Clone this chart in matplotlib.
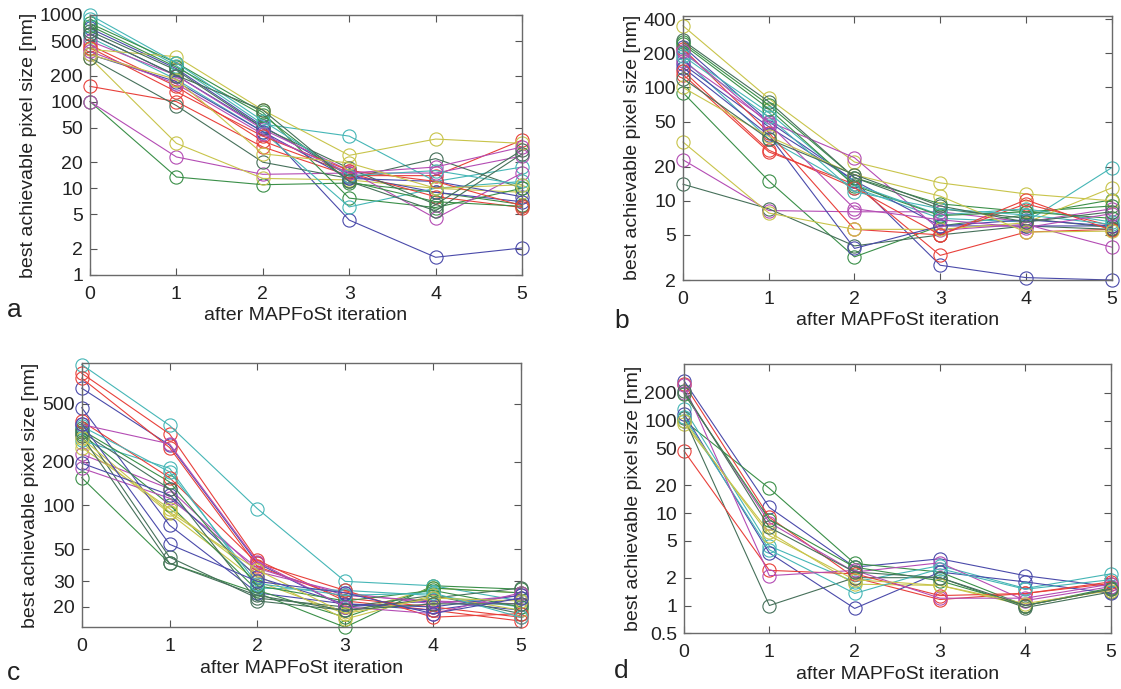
import matplotlib
matplotlib.use('Agg')
import matplotlib.pyplot as plt
from matplotlib.ticker import FixedLocator, FixedFormatter, NullLocator

plt.rcParams['font.family'] = ['Liberation Sans', 'DejaVu Sans']

iterations = [0, 1, 2, 3, 4, 5]

# best achievable pixel size [nm] per run, after each MAPFoSt iteration
series_a = [
    [600, 200, 50, 4.3, 1.6, 2.05],
    [100, 13.5, 11, 11.5, 9, 6.5],
    [150, 100, 30, 14, 14, 36],
    [900, 260, 55, 40, 12, 17.6],
    [100, 23, 14.5, 15, 15, 23.6],
    [320, 33, 13, 12.5, 10, 9],
    [320, 90, 20, 13, 22, 10],
    [700, 240, 52, 14, 9, 7],
    [800, 280, 75, 7.7, 6, 10],
    [450, 150, 35, 15, 8, 6],
    [550, 180, 45, 6.1, 10, 12],
    [500, 200, 48, 16, 4.5, 15],
    [400, 330, 80, 24, 37, 33],
    [650, 230, 50, 17, 6.5, 27.6],
    [350, 170, 45, 13, 12, 8],
    [750, 250, 70, 12, 7, 6.2],
    [420, 130, 40, 16, 12, 6.3],
    [1000, 280, 60, 14, 16, 11],
    [380, 160, 42, 15, 17.6, 30],
    [350, 180, 25, 19.6, 10, 11],
    [600, 200, 80, 12, 5.5, 25],
]

series_b = [
    [230, 50, 15, 2.7, 2.1, 2.0],
    [90, 15, 3.2, 6, 7.5, 10.2],
    [130, 27, 14, 3.3, 5.3, 5.6],
    [180, 35, 13, 7, 6.5, 19.6],
    [23, 8.2, 8, 8, 6.5, 8.5],
    [350, 80, 22, 14.4, 11.5, 10],
    [14, 8.5, 4, 5, 6, 5.6],
    [160, 45, 15, 6, 6, 6],
    [250, 70, 16, 9.4, 8, 9],
    [220, 40, 5.6, 5, 9.4, 6],
    [200, 60, 14, 7.5, 8.5, 6.5],
    [170, 50, 24, 5.5, 6.2, 3.9],
    [33, 7.8, 5.6, 5.6, 6.4, 13],
    [260, 75, 16, 8.5, 7, 5.8],
    [150, 38, 3.8, 6, 6.8, 6],
    [240, 65, 13.6, 7.4, 8, 7],
    [140, 28, 13, 5, 10.2, 5.5],
    [190, 55, 12, 8.5, 7.5, 6.2],
    [210, 48, 8.5, 6.8, 5.8, 7.7],
    [100, 37, 17, 11, 5.3, 5.4],
    [120, 35, 17, 9, 6.5, 8],
]

series_c = [
    [640, 260, 40, 20, 22, 19],
    [155, 40, 25, 14.5, 28, 26.5],
    [810, 310, 42, 22, 19, 16],
    [930, 355, 95, 30, 28, 22],
    [225, 130, 35, 25, 21, 24],
    [270, 88, 30, 18, 27, 25],
    [340, 44, 23, 20, 24, 18],
    [470, 73, 25, 21, 19, 23],
    [310, 101, 26, 17, 27, 25],
    [750, 250, 38, 23, 20, 17],
    [280, 180, 27, 26, 24, 20],
    [180, 112, 37, 24, 22, 21],
    [250, 95, 33, 16.5, 24, 19],
    [300, 40, 24, 19, 23, 27],
    [195, 118, 32, 21, 20, 24],
    [330, 145, 28, 22, 26, 20],
    [380, 155, 40, 26, 17, 18],
    [350, 170, 29, 24, 25, 17],
    [360, 265, 41, 20, 18, 25],
    [290, 90, 36, 18, 23, 22],
    [320, 130, 22, 19, 21, 21],
    [365, 54, 30, 25, 18, 23],
]

series_d = [
    [270, 11.5, 2.6, 3.2, 2.1, 1.6],
    [100, 18.5, 2.85, 2.3, 1.0, 1.5],
    [250, 9, 2.0, 1.16, 1.35, 1.73],
    [135, 4.4, 1.8, 2.7, 1.53, 2.2],
    [200, 7.9, 2.3, 2.9, 1.13, 1.6],
    [93, 6.2, 1.7, 1.65, 1.0, 1.5],
    [108, 1.0, 2.0, 2.0, 0.95, 1.4],
    [118, 3.7, 0.93, 2.3, 1.8, 1.35],
    [195, 8.5, 2.6, 1.85, 1.0, 1.55],
    [47, 2.4, 2.2, 1.28, 1.35, 1.8],
    [110, 4.0, 1.35, 2.5, 1.5, 1.9],
    [240, 2.1, 2.4, 1.2, 1.2, 1.7],
    [100, 5.7, 1.9, 1.65, 1.05, 1.45],
    [210, 7, 2.3, 2.0, 1.0, 1.5],
]

yticks_a = [1, 2, 5, 10, 20, 50, 100, 200, 500, 1000]
yticks_b = [2, 5, 10, 20, 50, 100, 200, 400]
yticks_c = [20, 30, 50, 100, 200, 500]
yticks_d = [0.5, 1, 2, 5, 10, 20, 50, 100, 200]

# old MATLAB line colour order, a bit muted like the printed figure
colors = ['#4a4aaa', '#3a8f48', '#e8403a', '#45b6b6', '#b44cb4', '#c8c44a', '#46705a']

panels = [
    # data, ticks, ylim, axes rect [l, b, w, h], letter, letter pos
    (series_a, yticks_a, (1, 1000), [0.0803, 0.6009, 0.3854, 0.3774], 'a', (0.006, 0.540)),
    (series_b, yticks_b, (2, 430), [0.6093, 0.5936, 0.3824, 0.3836], 'b', (0.548, 0.524)),
    (series_c, yticks_c, (14.5, 950), [0.0729, 0.0896, 0.3916, 0.3832], 'c', (0.006, 0.013)),
    (series_d, yticks_d, (0.5, 410), [0.6102, 0.0808, 0.3806, 0.3909], 'd', (0.548, 0.016)),
]

fig = plt.figure(figsize=(11.21, 6.89), dpi=100)

for data, ticks, ylim, rect, letter, lpos in panels:
    ax = fig.add_axes(rect)
    for i, row in enumerate(data):
        ax.plot(iterations, row, color=colors[i % len(colors)], lw=0.8,
                marker='o', ms=9.5, mfc='none', mew=0.8, clip_on=False)
    ax.set_yscale('log')
    ax.set_xlim(0, 5)
    ax.set_ylim(*ylim)
    ax.set_xticks(iterations)
    ax.yaxis.set_major_locator(FixedLocator(ticks))
    ax.yaxis.set_major_formatter(FixedFormatter([f'{t:g}' for t in ticks]))
    ax.yaxis.set_minor_locator(NullLocator())
    ax.tick_params(direction='in', top=True, right=True, length=5, width=0.8,
                   labelsize=14, colors='#555555', labelcolor='#222222')
    ax.tick_params(axis='x', pad=8)
    ax.tick_params(axis='y', pad=5)
    for s in ax.spines.values():
        s.set_color('#6a6a6a')
        s.set_linewidth(1.0)
    ax.set_xlabel('after MAPFoSt iteration', fontsize=14, color='#222222', labelpad=3)
    ax.set_ylabel('best achievable pixel size [nm]', fontsize=14, color='#222222', labelpad=2)
    fig.text(lpos[0], lpos[1], letter, fontsize=19, color='#222222', va='baseline')

plt.savefig('out.png', dpi=100)
